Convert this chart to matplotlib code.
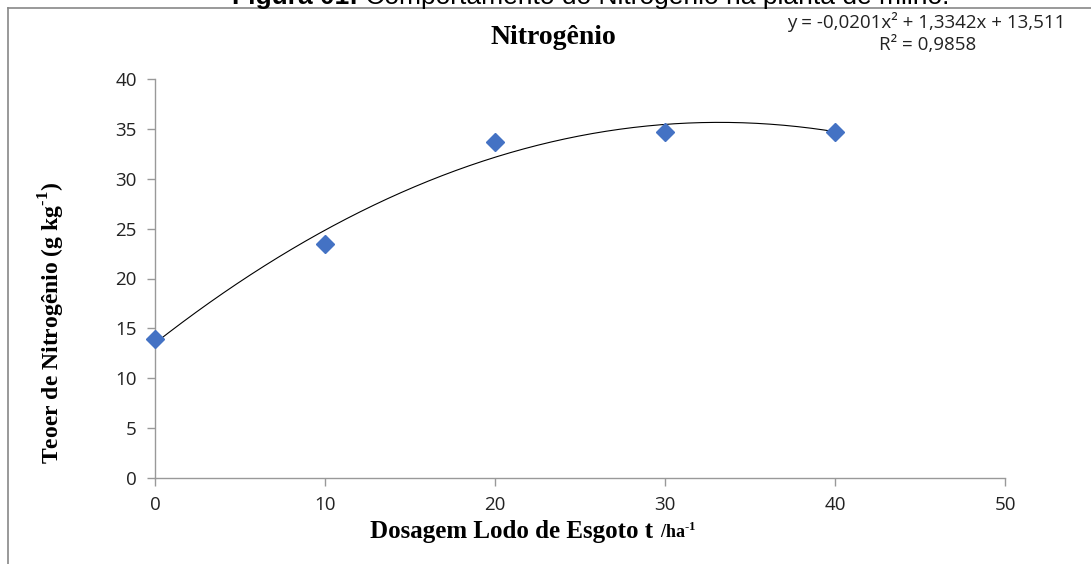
import numpy as np
import matplotlib.pyplot as plt
from matplotlib.lines import Line2D

plt.rcParams["mathtext.fontset"] = "custom"
plt.rcParams["mathtext.rm"] = "Liberation Serif"
plt.rcParams["mathtext.bf"] = "Liberation Serif:bold"

# data
dose = [0, 10, 20, 30, 40]
nitrogen = [13.9, 23.5, 33.7, 34.7, 34.7]
# trendline coefficients printed on the chart (a*x^2 + b*x + c)
coef = [-0.0201, 1.3342, 13.511]
x_ticks = [0, 10, 20, 30, 40, 50]
y_ticks = [0, 5, 10, 15, 20, 25, 30, 35, 40]

W, H = 1091, 564
fig = plt.figure(figsize=(W / 100, H / 100), dpi=100)
ax = fig.add_axes([155 / W, 1 - 478 / H, 850 / W, 399 / H])

xs = np.linspace(dose[0], dose[-1], 200)
ax.plot(xs, np.polyval(coef, xs), color="black", lw=0.8, zorder=2)
ax.plot(dose, nitrogen, linestyle="none", marker="D", ms=9,
        color="#4472C4", markeredgecolor="#4472C4", zorder=3, clip_on=False)

ax.set_xlim(0, 50)
ax.set_ylim(0, 40)
ax.set_xticks(x_ticks)
ax.set_yticks(y_ticks)
for s in ["top", "right"]:
    ax.spines[s].set_visible(False)
for s in ["left", "bottom"]:
    ax.spines[s].set_color("#999999")
    ax.spines[s].set_linewidth(1)
ax.tick_params(color="#999999", length=6, width=1, labelsize=13.5,
               labelcolor="#222222", pad=7)
for lab in ax.get_xticklabels() + ax.get_yticklabels():
    lab.set_family("Open Sans")

ax.set_title("Nitrogênio", family="Liberation Serif", fontweight="bold",
             fontsize=20, x=(553 - 155) / 850, y=1.0, pad=25)

# y label, rotated
fig.text(52 / W, 1 - 323 / H, "Teoer de Nitrogênio (g kg$^{\\mathbf{‐1}}$)",
         family="Liberation Serif", fontweight="bold", fontsize=17,
         rotation=90, ha="center", va="center")

# x label, with a smaller unit part
xl = fig.text(370 / W, 1 - 538 / H, "Dosagem Lodo de Esgoto t", family="Liberation Serif",
              fontweight="bold", fontsize=18, ha="left", va="baseline")
fig.canvas.draw()
xb = xl.get_window_extent()
fig.text((xb.x1 + 7) / W, 1 - 538 / H, "/ha$^{\\mathbf{‐1}}$", family="Liberation Serif",
         fontweight="bold", fontsize=13, ha="left", va="baseline")

# trendline equation, Excel style
fig.text(926 / W, 1 - 28 / H, "y = -0,0201x² + 1,3342x + 13,511", family="Open Sans",
         fontsize=13.5, ha="center", va="baseline", color="#222222")
fig.text(928 / W, 1 - 50 / H, "R² = 0,9858", family="Open Sans",
         fontsize=13.5, ha="center", va="baseline", color="#222222")

# figure caption, cut off at the top of the image
cap1 = fig.text(232 / W, 1 - 4 / H, "Figura 01:", family="Liberation Sans",
                fontweight="bold", fontsize=19, ha="left", va="baseline")
fig.canvas.draw()
bb = cap1.get_window_extent()
fig.text(bb.x1 / W, 1 - 4 / H, " Comportamento do Nitrogênio na planta de milho.",
         family="Liberation Sans", fontsize=19, ha="left", va="baseline")

# chart border (top and left only visible)
fig.add_artist(Line2D([8 / W, 1], [1 - 8 / H, 1 - 8 / H],
                      color="#888888", lw=1.2, transform=fig.transFigure))
fig.add_artist(Line2D([8 / W, 8 / W], [0, 1 - 8 / H],
                      color="#888888", lw=1.2, transform=fig.transFigure))

fig.savefig("out.png", dpi=100)
